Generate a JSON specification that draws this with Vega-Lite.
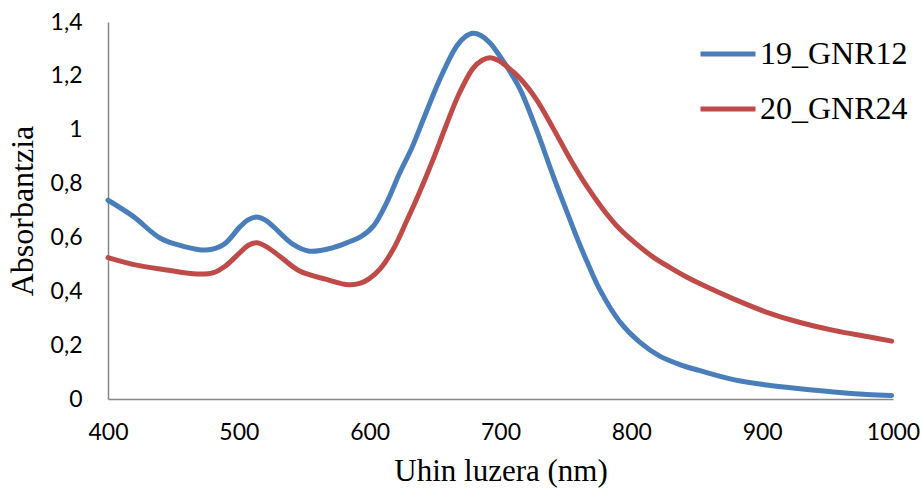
{
  "$schema": "https://vega.github.io/schema/vega-lite/v6.json",
  "width": 785,
  "height": 377,
  "autosize": "none",
  "padding": {"left": 108, "top": 22, "right": 28, "bottom": 94},
  "background": "white",
  "config": {"view": {"stroke": null}},
  "data": {"values": [
    {"wl": 400, "abs": 0.738, "s": "19_GNR12"},
    {"wl": 419, "abs": 0.679, "s": "19_GNR12"},
    {"wl": 440, "abs": 0.597, "s": "19_GNR12"},
    {"wl": 457, "abs": 0.568, "s": "19_GNR12"},
    {"wl": 475, "abs": 0.553, "s": "19_GNR12"},
    {"wl": 488, "abs": 0.572, "s": "19_GNR12"},
    {"wl": 501, "abs": 0.64, "s": "19_GNR12"},
    {"wl": 507, "abs": 0.665, "s": "19_GNR12"},
    {"wl": 513.5, "abs": 0.676, "s": "19_GNR12"},
    {"wl": 520, "abs": 0.665, "s": "19_GNR12"},
    {"wl": 526, "abs": 0.642, "s": "19_GNR12"},
    {"wl": 541.5, "abs": 0.574, "s": "19_GNR12"},
    {"wl": 554, "abs": 0.549, "s": "19_GNR12"},
    {"wl": 572, "abs": 0.562, "s": "19_GNR12"},
    {"wl": 585, "abs": 0.585, "s": "19_GNR12"},
    {"wl": 593, "abs": 0.602, "s": "19_GNR12"},
    {"wl": 603, "abs": 0.643, "s": "19_GNR12"},
    {"wl": 613, "abs": 0.729, "s": "19_GNR12"},
    {"wl": 623, "abs": 0.84, "s": "19_GNR12"},
    {"wl": 632, "abs": 0.93, "s": "19_GNR12"},
    {"wl": 641, "abs": 1.038, "s": "19_GNR12"},
    {"wl": 653.6, "abs": 1.187, "s": "19_GNR12"},
    {"wl": 666.4, "abs": 1.31, "s": "19_GNR12"},
    {"wl": 673, "abs": 1.345, "s": "19_GNR12"},
    {"wl": 679, "abs": 1.358, "s": "19_GNR12"},
    {"wl": 685, "abs": 1.35, "s": "19_GNR12"},
    {"wl": 691.8, "abs": 1.323, "s": "19_GNR12"},
    {"wl": 704.6, "abs": 1.236, "s": "19_GNR12"},
    {"wl": 715, "abs": 1.15, "s": "19_GNR12"},
    {"wl": 727.5, "abs": 1.0, "s": "19_GNR12"},
    {"wl": 740.3, "abs": 0.828, "s": "19_GNR12"},
    {"wl": 753, "abs": 0.667, "s": "19_GNR12"},
    {"wl": 760, "abs": 0.58, "s": "19_GNR12"},
    {"wl": 767, "abs": 0.5, "s": "19_GNR12"},
    {"wl": 776, "abs": 0.405, "s": "19_GNR12"},
    {"wl": 791, "abs": 0.288, "s": "19_GNR12"},
    {"wl": 806.4, "abs": 0.211, "s": "19_GNR12"},
    {"wl": 821.7, "abs": 0.159, "s": "19_GNR12"},
    {"wl": 837, "abs": 0.128, "s": "19_GNR12"},
    {"wl": 852, "abs": 0.106, "s": "19_GNR12"},
    {"wl": 878, "abs": 0.072, "s": "19_GNR12"},
    {"wl": 903.6, "abs": 0.052, "s": "19_GNR12"},
    {"wl": 929, "abs": 0.038, "s": "19_GNR12"},
    {"wl": 954.6, "abs": 0.026, "s": "19_GNR12"},
    {"wl": 980, "abs": 0.017, "s": "19_GNR12"},
    {"wl": 999, "abs": 0.013, "s": "19_GNR12"},
    {"wl": 400, "abs": 0.525, "s": "20_GNR24"},
    {"wl": 419, "abs": 0.5, "s": "20_GNR24"},
    {"wl": 445, "abs": 0.479, "s": "20_GNR24"},
    {"wl": 468, "abs": 0.464, "s": "20_GNR24"},
    {"wl": 480, "abs": 0.468, "s": "20_GNR24"},
    {"wl": 490, "abs": 0.495, "s": "20_GNR24"},
    {"wl": 500, "abs": 0.54, "s": "20_GNR24"},
    {"wl": 507, "abs": 0.57, "s": "20_GNR24"},
    {"wl": 513.5, "abs": 0.58, "s": "20_GNR24"},
    {"wl": 521, "abs": 0.566, "s": "20_GNR24"},
    {"wl": 531, "abs": 0.531, "s": "20_GNR24"},
    {"wl": 546.5, "abs": 0.475, "s": "20_GNR24"},
    {"wl": 567, "abs": 0.444, "s": "20_GNR24"},
    {"wl": 584, "abs": 0.424, "s": "20_GNR24"},
    {"wl": 593, "abs": 0.43, "s": "20_GNR24"},
    {"wl": 600, "abs": 0.448, "s": "20_GNR24"},
    {"wl": 608, "abs": 0.483, "s": "20_GNR24"},
    {"wl": 618, "abs": 0.556, "s": "20_GNR24"},
    {"wl": 628, "abs": 0.658, "s": "20_GNR24"},
    {"wl": 638.3, "abs": 0.77, "s": "20_GNR24"},
    {"wl": 648.5, "abs": 0.89, "s": "20_GNR24"},
    {"wl": 658, "abs": 1.01, "s": "20_GNR24"},
    {"wl": 668, "abs": 1.13, "s": "20_GNR24"},
    {"wl": 679, "abs": 1.228, "s": "20_GNR24"},
    {"wl": 686, "abs": 1.258, "s": "20_GNR24"},
    {"wl": 692, "abs": 1.267, "s": "20_GNR24"},
    {"wl": 698, "abs": 1.258, "s": "20_GNR24"},
    {"wl": 704.6, "abs": 1.236, "s": "20_GNR24"},
    {"wl": 715, "abs": 1.19, "s": "20_GNR24"},
    {"wl": 727.5, "abs": 1.112, "s": "20_GNR24"},
    {"wl": 740.3, "abs": 1.005, "s": "20_GNR24"},
    {"wl": 753, "abs": 0.893, "s": "20_GNR24"},
    {"wl": 765.8, "abs": 0.791, "s": "20_GNR24"},
    {"wl": 778.5, "abs": 0.704, "s": "20_GNR24"},
    {"wl": 791, "abs": 0.632, "s": "20_GNR24"},
    {"wl": 804, "abs": 0.575, "s": "20_GNR24"},
    {"wl": 817, "abs": 0.526, "s": "20_GNR24"},
    {"wl": 830, "abs": 0.487, "s": "20_GNR24"},
    {"wl": 842.6, "abs": 0.452, "s": "20_GNR24"},
    {"wl": 855, "abs": 0.422, "s": "20_GNR24"},
    {"wl": 878, "abs": 0.372, "s": "20_GNR24"},
    {"wl": 903.6, "abs": 0.322, "s": "20_GNR24"},
    {"wl": 929, "abs": 0.284, "s": "20_GNR24"},
    {"wl": 954.6, "abs": 0.255, "s": "20_GNR24"},
    {"wl": 980, "abs": 0.232, "s": "20_GNR24"},
    {"wl": 999, "abs": 0.215, "s": "20_GNR24"}
  ]},
  "mark": {"type": "line", "strokeWidth": 5, "strokeCap": "round", "strokeJoin": "round", "interpolate": "catmull-rom"},
  "encoding": {
    "x": {
      "field": "wl", "type": "quantitative",
      "scale": {"domain": [400, 1000], "nice": false},
      "axis": {
        "values": [400, 500, 600, 700, 800, 900, 1000],
        "format": "d",
        "grid": false, "ticks": false,
        "labelFlush": false, "labelOverlap": false, "labelBound": false,
        "domainColor": "#868686", "domainWidth": 1.5,
        "labelFont": "Lato", "labelFontSize": 23, "labelColor": "#000000",
        "labelPadding": 22,
        "title": "Uhin luzera (nm)",
        "titleFont": "Liberation Serif", "titleFontSize": 31, "titleFontWeight": "normal", "titleColor": "#000000",
        "titleY": 72, "titleBaseline": "middle"
      }
    },
    "y": {
      "field": "abs", "type": "quantitative",
      "scale": {"domain": [0, 1.4], "nice": false},
      "axis": {
        "values": [0, 0.2, 0.4, 0.6, 0.8, 1, 1.2, 1.4],
        "labelExpr": "replace(format(datum.value, '.1~f'), '.', ',')",
        "grid": false, "ticks": false,
        "labelFlush": false, "labelOverlap": false,
        "domainColor": "#868686", "domainWidth": 1.5,
        "labelFont": "Lato", "labelFontSize": 23, "labelColor": "#000000",
        "labelPadding": 26,
        "title": "Absorbantzia",
        "titleFont": "Liberation Serif", "titleFontSize": 32, "titleFontWeight": "normal", "titleColor": "#000000",
        "titleX": -86, "titleBaseline": "middle"
      }
    },
    "color": {
      "field": "s", "type": "nominal",
      "scale": {"domain": ["19_GNR12", "20_GNR24"], "range": ["#4A7EBB", "#BE4B48"]},
      "legend": {
        "title": null,
        "orient": "none",
        "legendX": 590,
        "legendY": 2,
        "symbolType": "stroke",
        "symbolSize": 3025,
        "symbolStrokeWidth": 5,
        "labelFont": "Liberation Serif",
        "labelFontSize": 32,
        "labelColor": "#000000",
        "labelOffset": 2,
        "rowPadding": 9
      }
    }
  }
}
